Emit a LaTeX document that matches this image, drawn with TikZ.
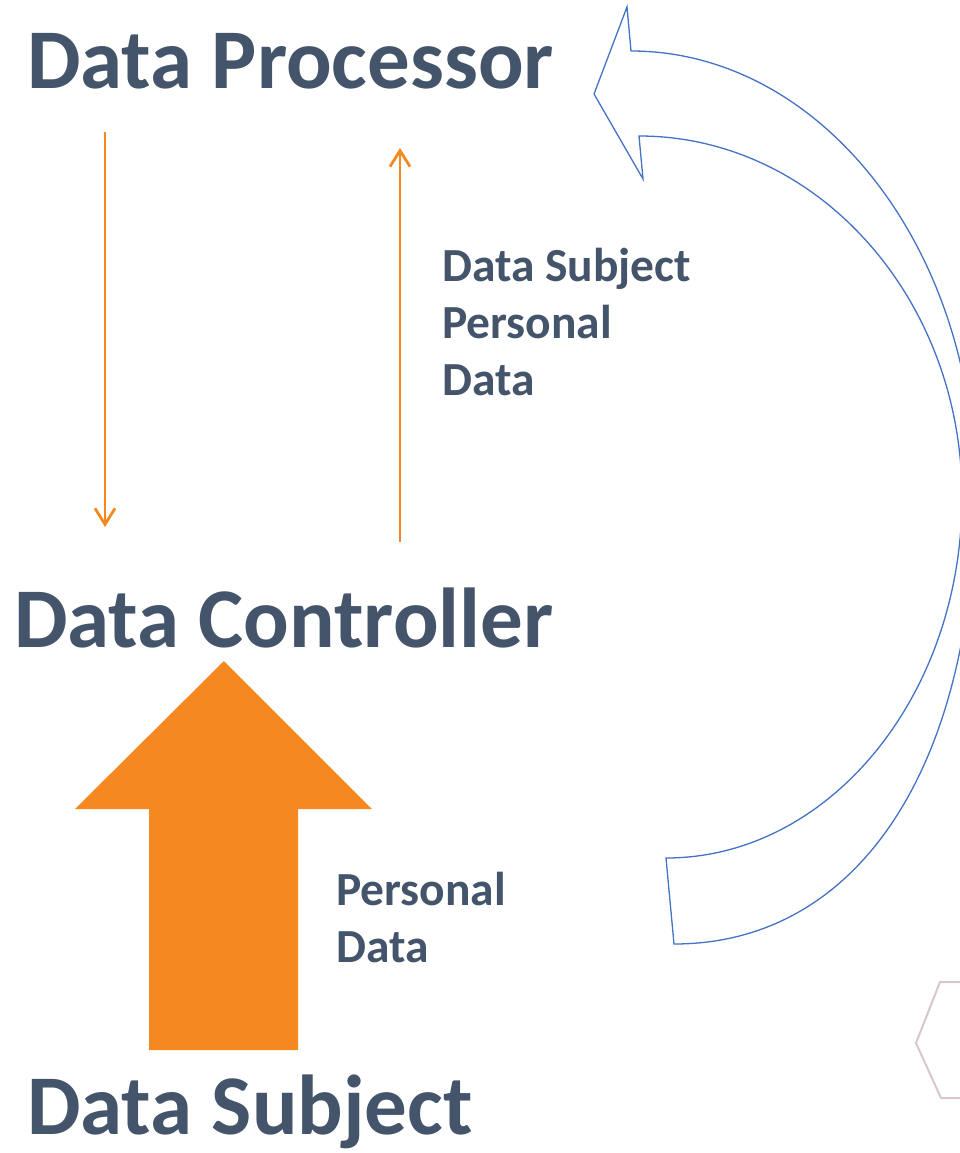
\documentclass[tikz,border=0pt]{standalone}
\usepackage{fontspec}
\setmainfont{Carlito}
\usepackage{tikz}
\usetikzlibrary{arrows.meta}
\definecolor{slate}{HTML}{44546A}
\definecolor{flow}{HTML}{F58820}
\definecolor{curveblue}{HTML}{4472C4}
\definecolor{hexline}{HTML}{D9C6CA}
\tikzset{
  title/.style={anchor=base west,inner sep=0pt,text=slate,font=\fontsize{85}{100}\selectfont\bfseries},
  smalltext/.style={anchor=base west,inner sep=0pt,text=slate,align=left,font=\fontsize{47.5}{57}\selectfont\bfseries},
  flowline/.style={draw=flow,line width=2.8pt,-{Straight Barb[length=16pt,width=20pt,line width=2.8pt]}}
}
\begin{document}
\begin{tikzpicture}[x=1pt,y=-1pt]
\useasboundingbox (0,0) rectangle (960,1153);
\clip (0,0) rectangle (960,1153);
% titles
\node[title] (proc) at (27,89) {Data Processor};
\node[title] (ctrl) at (14,647) {Data Controller};
\node[title] (subj) at (27,1134) {Data Subject};
% base is the last line here
\node[smalltext] (upinfo) at (442,395) {Data Subject\\Personal\\Data};
\node[smalltext] (pdinfo) at (336,962) {Personal\\Data};
% thin arrows
\coordinate (procdown) at (105,132);
\coordinate (ctrldown) at (105,527);
\coordinate (ctrlup) at (400,542);
\coordinate (procup) at (400,148);
\draw[flowline] (procdown) -- (ctrldown);
\draw[flowline] (ctrlup) -- (procup);
% big arrow
\fill[flow] (224,661) -- (372,809) -- (298,809) -- (298,1050) -- (149,1050) -- (149,809) -- (75,809) -- cycle;
% curved arrow
\draw[curveblue,line width=1.3pt,line join=miter] (594,94) -- (627,7) -- (631,51)
  .. controls (821,51) and (975,248) .. (975,490)
  .. controls (975,762) and (861,944) .. (674,944) -- (666,858)
  .. controls (829,858) and (962,696) .. (962,497)
  .. controls (962,298) and (817,136) .. (639,136) -- (643,179) -- cycle;
% hexagon
\draw[hexline,line width=2pt] (990,982) -- (940,982) -- (916,1043) -- (941,1098) -- (990,1098);
%\draw (0,0) grid[step=100] (960,1153);
\end{tikzpicture}
\end{document}
